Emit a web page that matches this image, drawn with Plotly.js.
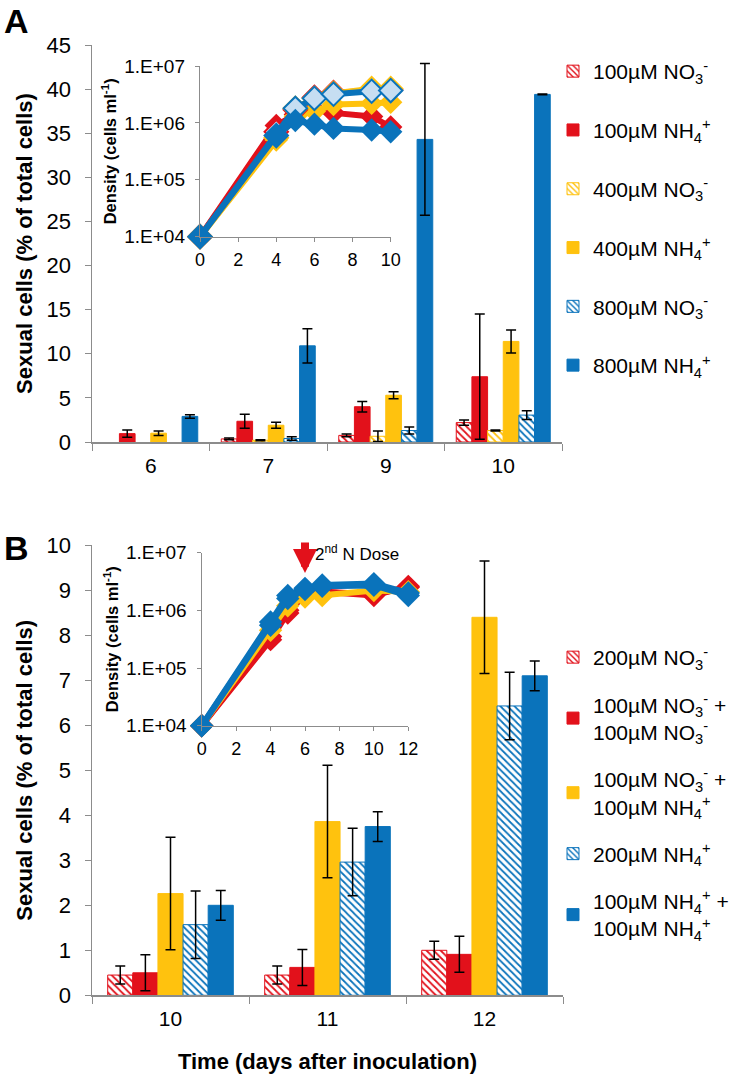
<!DOCTYPE html>
<html><head><meta charset="utf-8">
<script src="https://cdn.plot.ly/plotly-3.0.1.min.js"></script>
<style>html,body{margin:0;padding:0;background:#fff}#chart{width:747px;height:1079px}</style>
</head><body><div id="chart"></div>
<script>
// ---------- Panel A : bars ----------
var daysA = ['6','7','9','10'];
var a100NO3 = [null, 0.35, 0.75, 2.2];   var a100NO3Err = [0, 0.1, 0.15, 0.3];
var a100NH4 = [0.95, 2.35, 4.0, 7.4];    var a100NH4Err = [0.4, 0.8, 0.6, 7.1];
var a400NO3 = [null, 0.2, 0.65, 1.3];    var a400NO3Err = [0, 0.05, 0.6, 0.05];
var a400NH4 = [1.0, 1.9, 5.3, 11.4];     var a400NH4Err = [0.25, 0.35, 0.4, 1.3];
var a800NO3 = [null, 0.4, 1.3, 3.05];    var a800NO3Err = [0, 0.2, 0.4, 0.5];
var a800NH4 = [2.9, 10.9, 34.3, 39.4];   var a800NH4Err = [0.2, 1.95, 8.6, 0.05];
var namesA = ['100µM NO<sub>3</sub><sup>-</sup>','100µM NH<sub>4</sub><sup>+</sup>',
              '400µM NO<sub>3</sub><sup>-</sup>','400µM NH<sub>4</sub><sup>+</sup>',
              '800µM NO<sub>3</sub><sup>-</sup>','800µM NH<sub>4</sub><sup>+</sup>'];

// ---------- Panel A : inset density ----------
var dayInsetA = [0, 4, 5, 6, 7, 9, 10];
var dA100NO3 = [1e4, 7.0e5, 1.7e6, 2.8e6, 3.4e6, 3.8e6, 3.8e6];
var dA100NH4 = [1e4, 9.0e5, 1.4e6, 1.7e6, 1.5e6, 1.3e6, 8.5e5];
var dA400NO3 = [1e4, 5.5e5, 1.8e6, 2.7e6, 3.3e6, 4.0e6, 4.0e6];
var dA400NH4 = [1e4, 5.0e5, 1.3e6, 1.6e6, 2.1e6, 2.2e6, 2.3e6];
var dA800NO3 = [1e4, 6.0e5, 1.8e6, 2.7e6, 3.2e6, 3.6e6, 3.7e6];
var dA800NH4 = [1e4, 6.0e5, 1.1e6, 9.5e5, 8.0e5, 7.5e5, 7.0e5];

// ---------- Panel B : bars ----------
var daysB = ['10','11','12'];
var b200NO3   = [0.45, 0.45, 1.0];  var b200NO3Err   = [0.2, 0.2, 0.2];
var b100NO3x2 = [0.5, 0.62, 0.91];  var b100NO3x2Err = [0.4, 0.4, 0.4];
var bNO3NH4   = [2.26, 3.86, 8.4];  var bNO3NH4Err   = [1.25, 1.25, 1.25];
var b200NH4   = [1.57, 2.96, 6.43]; var b200NH4Err   = [0.75, 0.75, 0.75];
var bNH4x2    = [2.0, 3.75, 7.1];   var bNH4x2Err    = [0.33, 0.33, 0.33];
var namesB = ['200µM NO<sub>3</sub><sup>-</sup>',
              '100µM NO<sub>3</sub><sup>-</sup> +<br>100µM NO<sub>3</sub><sup>-</sup>',
              '100µM NO<sub>3</sub><sup>-</sup> +<br>100µM NH<sub>4</sub><sup>+</sup>',
              '200µM NH<sub>4</sub><sup>+</sup>',
              '100µM NH<sub>4</sub><sup>+</sup> +<br>100µM NH<sub>4</sub><sup>+</sup>'];

// ---------- Panel B : inset density ----------
var dayInsetB = [0, 4, 5, 6, 7, 10, 12];
var dB200NO3   = [1e4, 3.5e5, 1.0e6, 2.0e6, 2.1e6, 1.9e6, 2.5e6];
var dB100NO3x2 = [1e4, 3.1e5, 9.0e5, 1.9e6, 2.1e6, 1.8e6, 2.6e6];
var dB100NO3x2Err = [0, 0.7e5, 1.3e5, 0, 0, 0, 0];
var dBNO3NH4   = [1e4, 4.5e5, 1.2e6, 1.7e6, 1.8e6, 2.2e6, 2.1e6];
var dB200NH4   = [1e4, 5.5e5, 1.6e6, 2.3e6, 2.6e6, 2.7e6, 1.8e6];
var dBNH4x2    = [1e4, 6.3e5, 1.8e6, 2.4e6, 2.75e6, 2.9e6, 2.0e6];
var densTickVals = [1e4, 1e5, 1e6, 1e7];
var densTickText = ['1.E+04','1.E+05','1.E+06','1.E+07'];

var RED = '#e2111b', YEL = '#ffc20e', BLU = '#0a73bb', LBL = '#c6def2';
var FONT = 'Liberation Sans, Arial, sans-serif';
var W = 747, H = 1079;
function fx(p){return p/W;} function fy(p){return 1 - p/H;}

function bar(x, y, err, name, color, hatch, xa, ya, leg, grp){
  var m = {color: color, line: {color: color, width: 1}};
  if (hatch) m.pattern = {shape: '\\', bgcolor: '#ffffff', fgcolor: color, size: 5, solidity: 0.35};
  return {type:'bar', x:x, y:y, name:name, marker:m, xaxis:xa, yaxis:ya,
    legend: leg, legendgroup: grp,
    error_y:{type:'data', array:err, visible:true, color:'#000', thickness:1.5, width:5}};
}
function dens(x, y, color, hollow, xa, ya, err){
  var t = {type:'scatter', mode:'lines+markers', x:x, y:y, xaxis:xa, yaxis:ya, showlegend:false,
    cliponaxis:false, hoverinfo:'skip',
    line:{color:color, width:6},
    marker:{symbol:'diamond', size:18, color: hollow ? LBL : color, line:{color:color, width: hollow ? 2 : 0}}};
  if (err) t.error_y = {type:'data', array:err, color:'#000', thickness:1.3, width:4};
  return t;
}

var data = [
  bar(daysA, a100NO3, a100NO3Err, namesA[0], RED, true,  'x','y','legend','a1'),
  bar(daysA, a100NH4, a100NH4Err, namesA[1], RED, false, 'x','y','legend','a2'),
  bar(daysA, a400NO3, a400NO3Err, namesA[2], YEL, true,  'x','y','legend','a3'),
  bar(daysA, a400NH4, a400NH4Err, namesA[3], YEL, false, 'x','y','legend','a4'),
  bar(daysA, a800NO3, a800NO3Err, namesA[4], BLU, true,  'x','y','legend','a5'),
  bar(daysA, a800NH4, a800NH4Err, namesA[5], BLU, false, 'x','y','legend','a6'),
  dens(dayInsetA, dA100NH4, RED, false, 'x2','y2'),
  dens(dayInsetA, dA400NH4, YEL, false, 'x2','y2'),
  dens(dayInsetA, dA100NO3, RED, true, 'x2','y2'),
  dens(dayInsetA, dA400NO3, YEL, true, 'x2','y2'),
  dens(dayInsetA, dA800NO3, BLU, true, 'x2','y2'),
  dens(dayInsetA, dA800NH4, BLU, false, 'x2','y2'),
  bar(daysB, b200NO3,   b200NO3Err,   namesB[0], RED, true,  'x3','y3','legend2','b1'),
  bar(daysB, b100NO3x2, b100NO3x2Err, namesB[1], RED, false, 'x3','y3','legend2','b2'),
  bar(daysB, bNO3NH4,   bNO3NH4Err,   namesB[2], YEL, false, 'x3','y3','legend2','b3'),
  bar(daysB, b200NH4,   b200NH4Err,   namesB[3], BLU, true,  'x3','y3','legend2','b4'),
  bar(daysB, bNH4x2,    bNH4x2Err,    namesB[4], BLU, false, 'x3','y3','legend2','b5'),
  dens(dayInsetB, dB200NO3, RED, false, 'x4','y4'),
  dens(dayInsetB, dB100NO3x2, RED, false, 'x4','y4', dB100NO3x2Err),
  dens(dayInsetB, dBNO3NH4, YEL, false, 'x4','y4'),
  dens(dayInsetB, dB200NH4, BLU, false, 'x4','y4'),
  dens(dayInsetB, dBNH4x2, BLU, false, 'x4','y4')
];

var GRAY = '#8c8c8c';
var mainY = {showline:true, linecolor:GRAY, linewidth:1.5, ticks:'outside', ticklen:6, tickcolor:GRAY,
  showgrid:false, zeroline:false, tickfont:{family:FONT, size:22, color:'#000'}, ticklabelstandoff:9,
  automargin:false,
  title:{text:'<b>Sexual cells (% of total cells)</b>', font:{family:FONT, size:22, color:'#000'}, standoff:8}};
var mainX = {type:'category', showline:true, linecolor:GRAY, linewidth:1.5, ticks:'outside', ticklen:7,
  tickcolor:GRAY, tickson:'boundaries', showgrid:false, zeroline:false, automargin:false,
  tickfont:{family:FONT, size:21, color:'#000'}, ticklabelstandoff:4};
var insX = {showline:true, linecolor:GRAY, linewidth:1.2, ticks:'outside', ticklen:4, tickcolor:GRAY,
  showgrid:false, zeroline:false, tickfont:{family:FONT, size:18, color:'#000'}, dtick:2, automargin:false,
  ticklabelstandoff:2};
var insY = {type:'log', showline:true, linecolor:GRAY, linewidth:1.2, ticks:'outside', ticklen:4, tickcolor:GRAY,
  showgrid:false, zeroline:false, tickfont:{family:FONT, size:19, color:'#000'}, range:[4,7],
  tickvals:densTickVals, ticktext:densTickText, automargin:false, ticklabelstandoff:6,
  title:{text:'<b>Density (cells ml<sup>-1</sup>)</b>', font:{family:FONT, size:16.5, color:'#000'}, standoff:3}};

function cp(o, extra){var r = JSON.parse(JSON.stringify(o)); for (var k in extra) r[k] = extra[k]; return r;}

var layout = {
  width:W, height:H, margin:{l:0,r:0,t:0,b:0}, paper_bgcolor:'#fff', plot_bgcolor:'rgba(0,0,0,0)',
  barmode:'group', bargap:0.2, bargroupgap:0, showlegend:true,
  font:{family:FONT, color:'#000'},
  xaxis: cp(mainX, {domain:[fx(92), fx(562)], anchor:'y'}),
  yaxis: cp(mainY, {domain:[fy(442), fy(45)], range:[0,45], dtick:5, anchor:'x'}),
  xaxis2: cp(insX, {domain:[fx(200), fx(390.7)], range:[0,10], anchor:'y2'}),
  yaxis2: cp(insY, {domain:[fy(236.7), fy(66)], anchor:'x2'}),
  xaxis3: cp(mainX, {domain:[fx(92), fx(563)], anchor:'y3',
    title:{text:'<b>Time (days after inoculation)</b>', font:{family:FONT, size:22, color:'#000'}, standoff:24}}),
  yaxis3: cp(mainY, {domain:[fy(995.3), fy(545.3)], range:[0,10], dtick:1, anchor:'x3'}),
  xaxis4: cp(insX, {domain:[fx(201.7), fx(408.3)], range:[0,12], anchor:'y4'}),
  yaxis4: cp(insY, {domain:[fy(725.7), fy(552.6)], anchor:'x4'}),
  legend: {x:fx(553), y:fy(51), xanchor:'left', yanchor:'top', bgcolor:'rgba(0,0,0,0)',
    font:{family:FONT, size:21, color:'#000'}, tracegroupgap:28.5, traceorder:'grouped'},
  legend2: {x:fx(553), y:fy(637), xanchor:'left', yanchor:'top', bgcolor:'rgba(0,0,0,0)',
    font:{family:FONT, size:21, color:'#000'}, tracegroupgap:17, traceorder:'grouped'},
  annotations: [
    {text:'<b>A</b>', xref:'paper', yref:'paper', x:fx(2), y:fy(0), xanchor:'left', yanchor:'top',
      showarrow:false, font:{family:FONT, size:34, color:'#000'}},
    {text:'<b>B</b>', xref:'paper', yref:'paper', x:fx(2), y:fy(527), xanchor:'left', yanchor:'top',
      showarrow:false, font:{family:FONT, size:34, color:'#000'}},
    {text:'', xref:'x4', yref:'y4', x:6, y:6.646, ax:0, ay:-32, showarrow:true,
      arrowhead:2, arrowsize:0.6, arrowwidth:8, arrowcolor:RED},
    {text:'2<sup>nd</sup> N Dose', xref:'x4', yref:'y4', x:6, y:6.99, xanchor:'left', xshift:8,
      showarrow:false, font:{family:FONT, size:17, color:'#000'}}
  ]
};

Plotly.newPlot('chart', data, layout, {staticPlot:true});
</script></body></html>
